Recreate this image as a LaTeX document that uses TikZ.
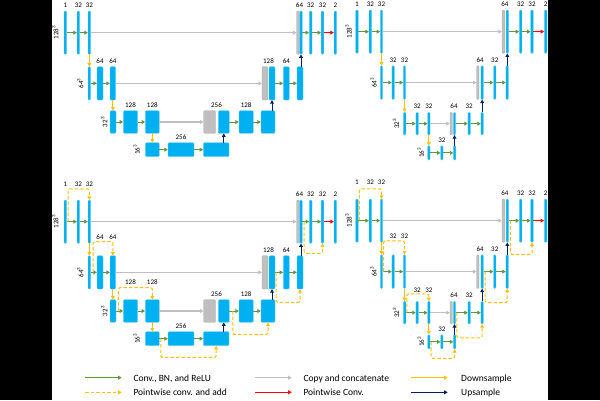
\documentclass[tikz,border=0pt]{standalone}
\usepackage{fontspec}
\setmainfont{Carlito}
\usetikzlibrary{arrows.meta,calc,positioning}
\definecolor{fmapblue}{HTML}{00B0F0}
\definecolor{fmapedge}{HTML}{6CCFF6}
\definecolor{catgray}{HTML}{BFBFBF}
\definecolor{convgreen}{HTML}{5E9A35}
\definecolor{addorange}{HTML}{FFC000}
\definecolor{upnavy}{HTML}{002060}
\tikzset{fmap/.style={draw=fmapedge, fill=fmapblue, line width=0.3pt, rounded corners=1pt, inner sep=0pt, minimum width=#1pt},
  catmap/.style={draw=catgray!90!black, fill=catgray, line width=0.3pt, rounded corners=1pt, inner sep=0pt, minimum width=#1pt},
  num/.style={font=\fontsize{7}{8}\selectfont, inner sep=0.5pt, yshift=2.5pt},
  dimlbl/.style={font=\fontsize{7}{8}\selectfont, inner sep=0.5pt, rotate=90},
  arrowtip/.style={-{Triangle[length=3.5pt,width=3.8pt]}},
  convarr/.style={arrowtip, convgreen, line width=0.9pt},
  catarr/.style={arrowtip, catgray, line width=1.2pt},
  pwarr/.style={arrowtip, red, line width=0.9pt},
  downarr/.style={arrowtip, addorange, line width=1pt},
  uparr/.style={arrowtip, upnavy, line width=1pt},
  addarr/.style={arrowtip, addorange, line width=1pt, dash pattern=on 3.5pt off 2pt, rounded corners=1.5pt},
  legtxt/.style={font=\fontsize{9.5}{11}\selectfont, inner sep=0pt, anchor=base west}}

% wide U-net: #1 prefix, #2-#4 lift of the encoder labels
\newcommand{\panelA}[4]{%
  % 128^3
  \node[fmap=2.7, minimum height=43.3pt, label={[num,yshift=#2pt]above:1}] (#1a1) at (65.35,32.65) {};
  \node[fmap=2.7, minimum height=43.3pt, label={[num,yshift=#2pt]above:32}] (#1a2) at (78.35,32.65) {};
  \node[fmap=2.7, minimum height=43.3pt, label={[num,yshift=#2pt]above:32}] (#1a3) at (89.35,32.65) {};
  \node[catmap=2.6, minimum height=43.3pt] (#1ag) at (298,32.65) {};
  \node[fmap=2.6, minimum height=43.3pt, label={[num,xshift=-1.5pt]above:64}] (#1a4) at (301,32.65) {};
  \node[fmap=2.7, minimum height=43.3pt, label={[num]above:32}] (#1a5) at (310.65,32.65) {};
  \node[fmap=2.6, minimum height=43.3pt, label={[num]above:32}] (#1a6) at (322.5,32.65) {};
  \node[fmap=2.7, minimum height=43.3pt, label={[num]above:2}] (#1a7) at (335.35,32.65) {};
  \node[dimlbl, left=4.8pt of #1a1, anchor=south] (#1sz1) {128\textsuperscript{3}};
  % 64^3
  \node[fmap=2.7, minimum height=33.3pt] (#1b1) at (89.35,83.35) {};
  \node[fmap=6, minimum height=33.3pt, label={[num,yshift=#3pt]above:64}] (#1b2) at (100,83.35) {};
  \node[fmap=5.7, minimum height=33.3pt, label={[num,yshift=#3pt]above:64}] (#1b3) at (112.85,83.35) {};
  \node[catmap=6, minimum height=33.3pt] (#1bg) at (265,83.35) {};
  \node[fmap=6, minimum height=33.3pt, label={[num,xshift=-3.5pt]above:128}] (#1b4) at (272,83.35) {};
  \node[fmap=6, minimum height=33.3pt, label={[num]above:64}] (#1b5) at (286.3,83.35) {};
  \node[fmap=6, minimum height=33.3pt] (#1b6) at (300,83.35) {};
  \node[dimlbl, left=3.8pt of #1b1, anchor=south] (#1sz2) {64\textsuperscript{3}};
  % 32^3
  \node[fmap=6, minimum height=22.6pt] (#1c1) at (113,122) {};
  \node[fmap=14.4, minimum height=22.6pt, label={[num,yshift=#4pt]above:128}] (#1c2) at (130.5,122) {};
  \node[fmap=14, minimum height=22.6pt, label={[num,yshift=#4pt]above:128}] (#1c3) at (152.3,122) {};
  \node[catmap=12, minimum height=22.6pt] (#1cg) at (209.7,122) {};
  \node[fmap=11, minimum height=22.6pt, label={[num,xshift=-7.3pt]above:256}] (#1c4) at (223.8,122) {};
  \node[fmap=14.3, minimum height=22.6pt, label={[num]above:128}] (#1c5) at (246.15,122) {};
  \node[fmap=14, minimum height=22.6pt] (#1c6) at (268,122) {};
  \node[dimlbl, left=1.8pt of #1c1, anchor=south] (#1sz3) {32\textsuperscript{3}};
  % 16^3
  \node[fmap=14, minimum height=14pt] (#1d1) at (152.3,149.7) {};
  \node[fmap=26, minimum height=14pt, label={[num]above:256}] (#1d2) at (181,149.7) {};
  \node[fmap=25.7, minimum height=14pt] (#1d3) at (216.15,149.7) {};
  \node[dimlbl, left=4.8pt of #1d1, anchor=south] (#1sz4) {16\textsuperscript{3}};
  % arrows
  \foreach \src/\dst in {a1/a2,a2/a3,a4/a5,a5/a6,b1/b2,b2/b3,b4/b5,b5/b6,c1/c2,c2/c3,c4/c5,c5/c6,d1/d2,d2/d3}
    \draw[convarr] (#1\src) -- (#1\dst);
  \foreach \src/\dst in {a3/ag,b3/bg,c3/cg}
    \draw[catarr] (#1\src) -- (#1\dst);
  \draw[pwarr] (#1a6) -- (#1a7);
  \draw[downarr] (#1a3) -- (#1b1);
  \draw[downarr] (#1b3.south) -- (#1b3.south |- #1c1.north);
  \draw[downarr] (#1c3) -- (#1d1);
  \draw[uparr] (#1c4 |- #1d3.north) -- (#1c4.south);
  \draw[uparr] (#1b4 |- #1c6.north) -- (#1b4.south);
  \draw[uparr] (#1a4 |- #1b6.north) -- (#1a4.south);
}

% narrow U-net: #1 prefix, #2-#4 lift of the encoder labels
\newcommand{\panelB}[4]{%
  % 128^3
  \node[fmap=2.6, minimum height=43.3pt, label={[num,yshift=#2pt]above:1}] (#1p1) at (357,31.65) {};
  \node[fmap=2.7, minimum height=43.3pt, label={[num,yshift=#2pt]above:32}] (#1p2) at (370.35,31.65) {};
  \node[fmap=2.4, minimum height=43.3pt, label={[num,yshift=#2pt]above:32}] (#1p3) at (381.5,31.65) {};
  \node[catmap=2.6, minimum height=43.3pt] (#1pg) at (503.3,31.65) {};
  \node[fmap=2.4, minimum height=43.3pt, label={[num,xshift=-2.5pt]above:64}] (#1p4) at (507.3,31.65) {};
  \node[fmap=2.6, minimum height=43.3pt, label={[num]above:32}] (#1p5) at (520.65,31.65) {};
  \node[fmap=2.6, minimum height=43.3pt, label={[num]above:32}] (#1p6) at (532,31.65) {};
  \node[fmap=2.7, minimum height=43.3pt, label={[num]above:2}] (#1p7) at (545.65,31.65) {};
  \node[dimlbl, left=3.2pt of #1p1, anchor=south] (#1sz1) {128\textsuperscript{3}};
  % 64^3
  \node[fmap=2.4, minimum height=33.8pt] (#1q1) at (381.5,82.6) {};
  \node[fmap=2.4, minimum height=33.8pt, label={[num,yshift=#3pt]above:32}] (#1q2) at (393.15,82.6) {};
  \node[fmap=2.4, minimum height=33.8pt, label={[num,yshift=#3pt]above:32}] (#1q3) at (404.5,82.6) {};
  \node[catmap=2.3, minimum height=33.8pt] (#1qg) at (477.85,82.6) {};
  \node[fmap=2.4, minimum height=33.8pt, label={[num,xshift=-2pt]above:64}] (#1q4) at (482.15,82.6) {};
  \node[fmap=2.4, minimum height=33.8pt, label={[num]above:32}] (#1q5) at (494.75,82.6) {};
  \node[fmap=2.4, minimum height=33.8pt] (#1q6) at (507.15,82.6) {};
  \node[dimlbl, left=2.8pt of #1q1, anchor=south] (#1sz2) {64\textsuperscript{3}};
  % 32^3
  \node[fmap=2.6, minimum height=22.7pt] (#1r1) at (404.65,123.65) {};
  \node[fmap=2.4, minimum height=22.7pt, label={[num,yshift=#4pt]above:32}] (#1r2) at (417.15,123.65) {};
  \node[fmap=2.4, minimum height=22.7pt, label={[num,yshift=#4pt]above:32}] (#1r3) at (428.85,123.65) {};
  \node[catmap=2.3, minimum height=22.7pt] (#1rg) at (451.15,123.65) {};
  \node[fmap=2.4, minimum height=22.7pt, label={[num,xshift=-0.5pt]above:64}] (#1r4) at (454.5,123.65) {};
  \node[fmap=2.4, minimum height=22.7pt, label={[num]above:32}] (#1r5) at (469.15,123.65) {};
  \node[fmap=2.4, minimum height=22.7pt] (#1r6) at (482.15,123.65) {};
  \node[dimlbl, left=3.4pt of #1r1, anchor=south] (#1sz3) {32\textsuperscript{3}};
  % 16^3
  \node[fmap=2.4, minimum height=14.3pt] (#1s1) at (428.85,152.85) {};
  \node[fmap=2.4, minimum height=14.3pt, label={[num]above:32}] (#1s2) at (441.85,152.85) {};
  \node[fmap=2.4, minimum height=14.3pt] (#1s3) at (454.65,152.85) {};
  \node[dimlbl, left=2.8pt of #1s1, anchor=south] (#1sz4) {16\textsuperscript{3}};
  % arrows
  \foreach \src/\dst in {p1/p2,p2/p3,p4/p5,p5/p6,q1/q2,q2/q3,q4/q5,q5/q6,r1/r2,r2/r3,r4/r5,r5/r6,s1/s2,s2/s3}
    \draw[convarr] (#1\src) -- (#1\dst);
  \foreach \src/\dst in {p3/pg,q3/qg,r3/rg}
    \draw[catarr] (#1\src) -- (#1\dst);
  \draw[pwarr] (#1p6) -- (#1p7);
  \draw[downarr] (#1p3) -- (#1q1);
  \draw[downarr] (#1q3.south) -- (#1q3.south |- #1r1.north);
  \draw[downarr] (#1r3) -- (#1s1);
  \draw[uparr] (#1r4 |- #1s3.north) -- (#1r4.south);
  \draw[uparr] (#1q4 |- #1r6.north) -- (#1q4.south);
  \draw[uparr] (#1p4 |- #1q6.north) -- (#1p4.south);
}

\begin{document}
\begin{tikzpicture}[x=1pt,y=-1pt]
\useasboundingbox (0,0) rectangle (600,400);
\fill[black] (0,0) rectangle (52,400);
\fill[black] (547.6,0) rectangle (600,400);
% top row: plain blocks
\panelA{TL}{0}{0}{0}
\panelB{TR}{0}{0}{0}
% bottom row: residual blocks
\begin{scope}[yshift=-189pt]
\panelA{BL}{10}{13}{12}
\panelB{BR}{11}{13}{5}
\end{scope}
% residual connections, wide net
\draw[addarr] ([xshift=1.3pt]BLa1.east) |- ([yshift=11pt]BLa3.north) -- (BLa3.north);
\draw[addarr] ([xshift=2.3pt]BLb1.east) |- ([yshift=14pt]BLb3.north) -- (BLb3.north);
\draw[addarr] ([xshift=2.3pt]BLc1.east) |- ([yshift=12pt]BLc3.north) -- (BLc3.north);
\draw[addarr] ([xshift=1.4pt]BLd1.east) |- ([yshift=-11.6pt]BLd3.south) -- (BLd3.south);
\draw[addarr] ([xshift=3.4pt]BLc4.east) |- ([yshift=-12pt]BLc6.south) -- (BLc6.south);
\draw[addarr] ([xshift=1pt]BLb4.east) |- ([yshift=-13.3pt]BLb6.south) -- (BLb6.south);
\draw[addarr] ([xshift=1.7pt]BLa4.east) |- ([yshift=-10pt]BLa6.south) -- (BLa6.south);
% residual connections, narrow net
\draw[addarr] ([xshift=0.8pt]BRp1.east) |- ([yshift=10pt]BRp3.north) -- (BRp3.north);
\draw[addarr] ([xshift=0.7pt]BRq1.east) |- ([yshift=13.7pt]BRq3.north) -- (BRq3.north);
\draw[addarr] ([xshift=0.8pt]BRr1.east) |- ([yshift=7.3pt]BRr3.north) -- (BRr3.north);
\draw[addarr] ([xshift=1pt]BRs1.east) |- ([yshift=-9.3pt]BRs3.south) -- (BRs3.south);
\draw[addarr] ([xshift=1pt]BRr4.east) |- ([yshift=-13.7pt]BRr6.south) -- (BRr6.south);
\draw[addarr] ([xshift=1.7pt]BRq4.east) |- ([yshift=-14pt]BRq6.south) -- (BRq6.south);
\draw[addarr] ([xshift=1.7pt]BRp4.east) |- ([yshift=-12pt]BRp6.south) -- (BRp6.south);
% legend
\foreach \sty/\x/\y/\tx/\txt in {convarr/85/377.7/133.3/{Conv., BN, and ReLU},
    addarr/85/392.3/133.3/{Pointwise conv. and add},
    catarr/255/377.7/303.3/{Copy and concatenate},
    pwarr/255/392.3/303.3/{Pointwise Conv.},
    downarr/411/377.7/461/{Downsample},
    uparr/411/392.3/461/{Upsample}}{
  \coordinate (k-\sty) at (\x,\y);
  \coordinate (k-\sty-end) at (\x+36.7,\y);
  \draw[\sty] (k-\sty) -- (k-\sty-end);
  \node[legtxt] (t-\sty) at (\tx,\y+3.3) {\txt};
}
\end{tikzpicture}
\end{document}
